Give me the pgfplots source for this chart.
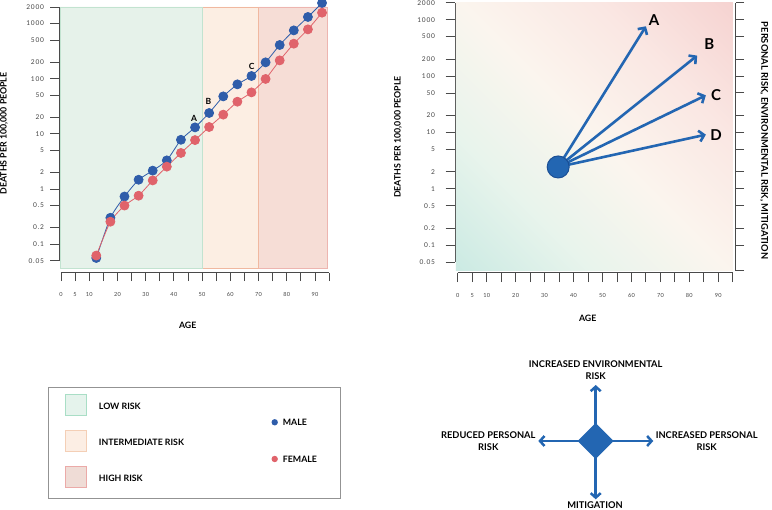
\documentclass[border=0pt]{standalone}
\usepackage{fontspec}
\setmainfont{Lato}
\newfontfamily\tickfont[LetterSpace=12]{Lato}
\newfontfamily\xtickfont[LetterSpace=5]{Lato}
\usepackage{pgfplots}
\pgfplotsset{compat=1.18}
\usetikzlibrary{arrows.meta}

\definecolor{maleC}{HTML}{2F5DAA}
\definecolor{femC}{HTML}{E0636B}
\definecolor{lowF}{HTML}{E6F2EA}
\definecolor{lowB}{HTML}{C2E3D0}
\definecolor{midF}{HTML}{FCEEE3}
\definecolor{midB}{HTML}{F0B8A0}
\definecolor{highF}{HTML}{F6DDD6}
\definecolor{highB}{HTML}{EDB5B0}
\definecolor{axC}{HTML}{4A4A4A}
\definecolor{tickC}{HTML}{444444}
\definecolor{arrC}{HTML}{2366B2}
\definecolor{circB}{HTML}{1B4F95}
\definecolor{gA}{RGB}{203,234,227}
\definecolor{gB}{RGB}{232,244,236}
\definecolor{gC}{RGB}{251,245,238}
\definecolor{gD}{RGB}{250,231,227}
\definecolor{gE}{RGB}{246,211,209}
\definecolor{lgLowF}{HTML}{E5F3EC}
\definecolor{lgLowB}{HTML}{A9DEC6}
\definecolor{lgMidF}{HTML}{FCEEE4}
\definecolor{lgMidB}{HTML}{F4CFB6}
\definecolor{lgHighF}{HTML}{EFDCD6}
\definecolor{lgHighB}{HTML}{EBAAA8}

\pgfdeclarehorizontalshading{bggrad}{100bp}{color(0bp)=(gA); color(14.6bp)=(gA); color(32.3bp)=(gB); color(50bp)=(gC); color(67.7bp)=(gD); color(85.4bp)=(gE); color(100bp)=(gE)}

\newcommand\lbl{\bfseries\fontsize{8.8}{10}\selectfont}
\newcommand\lgd{\bfseries\fontsize{8.8}{10}\selectfont}
\newcommand\dia{\bfseries\fontsize{9.3}{12}\selectfont}
\newcommand\ytf{\tickfont\fontsize{6.6}{7}\selectfont}
\newcommand\xtf{\xtickfont\fontsize{5.6}{6}\selectfont}

\begin{document}
\begin{tikzpicture}[x=1pt,y=1pt]
\useasboundingbox (0,0) rectangle (772,510);

% ---------------- left chart ----------------
\begin{axis}[at={(61pt,249.3pt)}, anchor=south west,
  scale only axis, width=268.1pt, height=253.7pt, clip=false,
  ymode=log, xmin=0, xmax=95, ymin=0.05, ymax=2000,
  xtick={0,5,...,95},
  xticklabels={0,5,10,,20,,30,,40,,50,,60,,70,,80,,90,},
  ytick={0.05,0.1,0.2,0.5,1,2,5,10,20,50,100,200,500,1000,2000},
  yticklabels={0.05,0.1,0.2,0.5,1,2,5,10,20,50,100,200,500,1000,2000},
  xminorticks=false, yminorticks=false,
  axis x line*=bottom, axis y line*=left,
  axis x line shift=12pt, axis y line shift=2pt,
  axis line style={axC, line width=0.9pt},
  tick align=outside, major tick length=8.5pt,
  tick style={axC, line width=0.9pt},
  xticklabel style={font=\xtf, text=tickC, yshift=-8pt},
  yticklabel style={font=\ytf, text=tickC, xshift=-3pt}]
\addplot[fill=highF, draw=highB, line width=0.6pt] coordinates {(70,0.0364) (94.5,0.0364) (94.5,2000) (70,2000) (70,0.0364)};
\addplot[fill=midF, draw=midB, line width=0.6pt] coordinates {(50,0.0364) (70,0.0364) (70,2000) (50,2000) (50,0.0364)};
\addplot[fill=lowF, draw=lowB, line width=0.6pt] coordinates {(-0.3,0.0364) (50,0.0364) (50,2000) (-0.3,2000) (-0.3,0.0364)};

\addplot[maleC, line width=0.8pt, smooth, tension=0.35, mark=*, mark size=4.5pt,
  mark options={solid, fill=maleC, draw=none}] coordinates {
(12.5,0.056) (17.5,0.30) (22.5,0.73) (27.5,1.47) (32.5,2.15) (37.5,3.3) (42.5,7.8) (47.5,13.1) (52.5,23.9) (57.5,47.8) (62.5,79) (67.5,112) (72.5,198) (77.5,409) (82.5,753) (87.5,1318) (92.5,2366)};
\addplot[femC, line width=0.8pt, smooth, tension=0.35, mark=*, mark size=4.5pt,
  mark options={solid, fill=femC, draw=none}] coordinates {
(12.5,0.062) (17.5,0.255) (22.5,0.50) (27.5,0.755) (32.5,1.43) (37.5,2.54) (42.5,4.5) (47.5,7.7) (52.5,13.3) (57.5,22.3) (62.5,38.3) (67.5,56.5) (72.5,99) (77.5,215) (82.5,432) (87.5,785) (92.5,1578)};

\node[font=\bfseries\fontsize{8.5}{8.5}\selectfont] at (axis cs:47.2,19.4) {A};
\node[font=\bfseries\fontsize{8.5}{8.5}\selectfont] at (axis cs:52.2,38.8) {B};
\node[font=\bfseries\fontsize{8.5}{8.5}\selectfont] at (axis cs:67.6,167.5) {C};
\end{axis}

\node[font=\lbl, rotate=90] at (4,376.6) {DEATHS PER 100,000 PEOPLE};
\node[font=\lbl] at (187.7,185) {AGE};

% ---------------- right chart ----------------
\begin{axis}[at={(457.7pt,248pt)}, anchor=south west,
  scale only axis, width=275.1pt, height=259.3pt, clip=false,
  ymode=log, xmin=0, xmax=95, ymin=0.05, ymax=2000,
  xtick={0,5,...,95},
  xticklabels={0,5,10,,20,,30,,40,,50,,60,,70,,80,,90,},
  ytick={0.05,0.1,0.2,0.5,1,2,5,10,20,50,100,200,500,1000,2000},
  yticklabels={0.05,0.1,0.2,0.5,1,2,5,10,20,50,100,200,500,1000,2000},
  xminorticks=false, yminorticks=false,
  axis x line*=bottom, axis y line*=left,
  axis x line shift=10.7pt, axis y line shift=2.7pt,
  axis line style={axC, line width=0.9pt},
  tick align=outside, major tick length=9.5pt,
  tick style={axC, line width=0.9pt},
  xticklabel style={font=\xtf, text=tickC, yshift=-8pt},
  yticklabel style={font=\ytf, text=tickC, xshift=-7pt}]
\shade[shading=bggrad, shading angle=45] (axis cs:-0.6,0.035) rectangle (axis cs:95,2000);
\addplot[arrC, line width=2.6pt, -{Straight Barb[length=5pt,width=11pt]}] coordinates {(34.7,2.43) (65,763)};
\addplot[arrC, line width=2.6pt, -{Straight Barb[length=5pt,width=11pt]}] coordinates {(34.7,2.43) (82.7,230)};
\addplot[arrC, line width=2.6pt, -{Straight Barb[length=5pt,width=11pt]}] coordinates {(34.7,2.43) (85.7,45.4)};
\addplot[arrC, line width=2.6pt, -{Straight Barb[length=5pt,width=11pt]}] coordinates {(34.7,2.43) (85.7,9.1)};
\addplot[only marks, mark=*, mark size=11pt, mark options={fill=arrC, draw=circB, line width=1pt}] coordinates {(34.7,2.43)};
\node[font=\bfseries\fontsize{15}{15}\selectfont] at (axis cs:67.8,1000) {A};
\node[font=\bfseries\fontsize{15}{15}\selectfont] at (axis cs:86.9,371) {B};
\node[font=\bfseries\fontsize{15}{15}\selectfont] at (axis cs:89.2,46.7) {C};
\node[font=\bfseries\fontsize{15}{15}\selectfont] at (axis cs:89.2,9.1) {D};
\end{axis}

\begin{axis}[at={(457.7pt,239.3pt)}, anchor=south west,
  scale only axis, width=278pt, height=268pt, xmin=0, xmax=1,
  ymode=log, ymin=0.035, ymax=2000,
  axis y line*=right, axis x line=none,
  ytick={0.035,0.1,0.2,0.5,1,2,5,10,20,50,100,200,500,1000,2000}, yticklabels={},
  yminorticks=false, tick align=outside, major tick length=8.5pt,
  axis line style={axC, line width=0.9pt}, tick style={axC, line width=0.9pt}]
\end{axis}

\node[font=\lbl, rotate=90] at (398,373) {DEATHS PER 100,000 PEOPLE};
\node[font=\lbl] at (587.7,191.3) {AGE};
\node[font=\bfseries\fontsize{9.3}{10}\selectfont, rotate=-90] at (764,369.5) {PERSONAL RISK, ENVIRONMENTAL RISK, MITIGATION};

% ---------------- legend box ----------------
\draw[draw=gray!85, line width=0.8pt] (48.3,122.7) rectangle (340,12);
\draw[fill=lgLowF, draw=lgLowB, line width=0.7pt] (65,116) rectangle (86.7,94.7);
\draw[fill=lgMidF, draw=lgMidB, line width=0.7pt] (65,80) rectangle (86.7,58.7);
\draw[fill=lgHighF, draw=lgHighB, line width=0.7pt] (65,44) rectangle (86.7,22.7);
\node[font=\lgd, anchor=west, inner sep=0pt] at (98.7,104) {LOW RISK};
\node[font=\lgd, anchor=west, inner sep=0pt] at (98.7,67.3) {INTERMEDIATE RISK};
\node[font=\lgd, anchor=west, inner sep=0pt] at (98.7,31.3) {HIGH RISK};
\fill[maleC] (274.7,87.7) circle (3.2);
\fill[femC] (274.7,51) circle (3.2);
\node[font=\lgd, anchor=west, inner sep=0pt] at (282.7,87.7) {MALE};
\node[font=\lgd, anchor=west, inner sep=0pt] at (282.7,51) {FEMALE};

% ---------------- direction diagram ----------------
\begin{scope}[arrC, line width=2.5pt]
\draw[-{Straight Barb[length=4.5pt,width=10pt]}] (595.7,85) -- (595.7,125);
\draw[-{Straight Barb[length=4.5pt,width=10pt]}] (595.7,53) -- (595.7,10.7);
\draw[-{Straight Barb[length=4.5pt,width=10pt]}] (579.7,69) -- (538.3,69);
\draw[-{Straight Barb[length=4.5pt,width=10pt]}] (611.7,69) -- (653.3,69);
\end{scope}
\fill[arrC] (595.7,87) -- (613.7,69) -- (595.7,51) -- (577.7,69) -- cycle;
\node[font=\dia, align=center] at (595.7,140) {INCREASED ENVIRONMENTAL\\RISK};
\node[font=\dia, align=center] at (488.3,68.7) {REDUCED PERSONAL\\RISK};
\node[font=\dia, align=center] at (706.7,68.7) {INCREASED PERSONAL\\RISK};
\node[font=\dia] at (595,4.7) {MITIGATION};
\end{tikzpicture}
\end{document}
